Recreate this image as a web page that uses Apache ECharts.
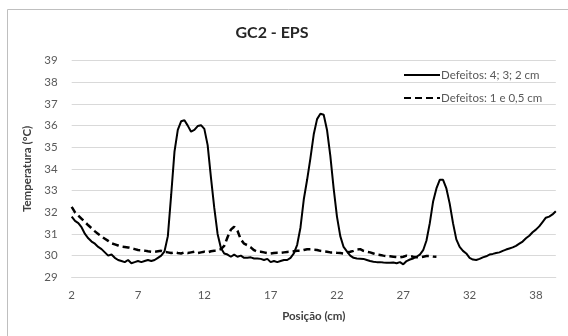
<!DOCTYPE html>
<html>
<head>
<meta charset="utf-8">
<script src="https://cdn.jsdelivr.net/npm/echarts@6/dist/echarts.min.js"></script>
<style>
html,body{margin:0;padding:0;background:#fff;}
#chart{width:568px;height:336px;}
</style>
</head>
<body>
<div id="chart"></div>
<script>
// Position start (cm) and sampling step along the category axis
const startCm = 2;
const stepCm = 0.25;

// Tick labels shown on the x axis (as printed in the original)
const xTickLabels = ['2', '7', '12', '17', '22', '27', '32', '38'];

const seriesNames = ['Defeitos: 4; 3; 2 cm', 'Defeitos: 1 e 0,5 cm'];

// Solid series: Defeitos 4; 3; 2 cm
const solidValues = [
  31.8, 31.6, 31.5, 31.3, 31.0, 30.8, 30.65, 30.55, 30.4, 30.3,
  30.15, 30.0, 30.05, 29.9, 29.8, 29.75, 29.7, 29.8, 29.65, 29.7,
  29.75, 29.7, 29.75, 29.8, 29.75, 29.8, 29.9, 30.0, 30.2, 30.9,
  32.8, 34.8, 35.8, 36.2, 36.25, 36.0, 35.72, 35.8, 35.98, 36.02,
  35.85, 35.1, 33.6, 32.2, 31.0, 30.35, 30.1, 30.05, 29.95, 30.05,
  29.95, 30.0, 29.9, 29.9, 29.92, 29.87, 29.87, 29.85, 29.8, 29.85,
  29.7, 29.75, 29.7, 29.75, 29.8, 29.8, 29.9, 30.1, 30.5, 31.3,
  32.6, 33.5, 34.5, 35.6, 36.3, 36.55, 36.5, 35.8, 34.6, 33.1,
  31.8, 30.9, 30.4, 30.2, 30.0, 29.9, 29.87, 29.86, 29.85, 29.8,
  29.75, 29.72, 29.7, 29.7, 29.68, 29.67, 29.67, 29.68, 29.65, 29.7,
  29.6, 29.75, 29.82, 29.87, 29.95, 30.05, 30.25, 30.7, 31.5, 32.5,
  33.1, 33.5, 33.5, 33.1, 32.4, 31.5, 30.75, 30.4, 30.22, 30.1,
  29.9, 29.82, 29.8, 29.85, 29.92, 29.97, 30.05, 30.08, 30.12, 30.15,
  30.22, 30.28, 30.33, 30.38, 30.45, 30.55, 30.65, 30.8, 30.92, 31.08,
  31.2, 31.35, 31.55, 31.75, 31.8, 31.9, 32.05
];

// Dashed series: Defeitos 1 e 0,5 cm
const dashedValues = [
  32.25, 32.0, 31.85, 31.7, 31.55, 31.4, 31.26, 31.12, 31.0, 30.88,
  30.78, 30.68, 30.57, 30.52, 30.47, 30.42, 30.4, 30.38, 30.34, 30.3,
  30.26, 30.25, 30.23, 30.2, 30.18, 30.18, 30.2, 30.22, 30.18, 30.15,
  30.12, 30.15, 30.12, 30.1, 30.15, 30.12, 30.15, 30.18, 30.12, 30.15,
  30.18, 30.15, 30.2, 30.22, 30.25, 30.3, 30.45, 30.85, 31.2, 31.33,
  31.15, 30.75, 30.55, 30.48, 30.38, 30.25, 30.18, 30.18, 30.15, 30.12,
  30.1, 30.12, 30.13, 30.13, 30.15, 30.17, 30.18, 30.2, 30.22, 30.22,
  30.26, 30.29, 30.29, 30.27, 30.26, 30.22, 30.2, 30.18, 30.15, 30.15,
  30.13, 30.12, 30.1, 30.15, 30.18, 30.22, 30.28, 30.3, 30.22, 30.18,
  30.15, 30.1, 30.05, 30.03, 30.0, 29.98, 29.97, 29.95, 29.93, 29.92,
  29.95, 30.0, 29.98, 29.95, 29.93, 29.92, 29.95, 29.98, 29.98, 29.96,
  29.95
];

const categories = solidValues.map((_, i) => String(startCm + i * stepCm));

const FONT = 'Lato, "Open Sans", sans-serif';
const chart = echarts.init(document.getElementById('chart'), null, {renderer: 'canvas'});
chart.setOption({
  animation: false,
  backgroundColor: '#fff',
  graphic: [{
    type: 'rect',
    shape: {x: 7.5, y: 9.5, width: 600, height: 400},
    style: {fill: 'none', stroke: '#bfbfbf', lineWidth: 1},
    silent: true,
    z: -10
  }],
  title: {
    text: 'GC2 - EPS',
    left: 267,
    textAlign: 'center',
    top: 20,
    textStyle: {fontFamily: FONT, fontSize: 16, fontWeight: 'bold', color: '#262626'}
  },
  legend: {
    orient: 'vertical',
    left: 398,
    top: 64,
    itemWidth: 36,
    itemHeight: 14,
    itemGap: 11,
    data: seriesNames,
    itemStyle: {opacity: 0},
    textStyle: {fontFamily: FONT, fontSize: 11.5, color: '#595959', padding: [0, 0, 0, -4]}
  },
  grid: {left: 71.7, right: 12.2, top: 60.6, bottom: 58.7, containLabel: false},
  xAxis: {
    type: 'category',
    data: categories,
    boundaryGap: false,
    name: 'Posição (cm)',
    nameLocation: 'middle',
    nameGap: 33,
    nameTextStyle: {fontFamily: FONT, fontSize: 11.5, fontWeight: 'bold', color: '#404040'},
    axisLine: {show: true, lineStyle: {color: '#d9d9d9'}},
    axisTick: {show: false},
    axisLabel: {
      interval: 19,
      margin: 12,
      fontFamily: FONT, fontSize: 11.5, color: '#595959',
      formatter: function (v) {
        const k = Math.round((parseFloat(v) - startCm) / 5);
        return xTickLabels[k] !== undefined ? xTickLabels[k] : '';
      }
    },
    splitLine: {show: false}
  },
  yAxis: {
    type: 'value',
    min: 29,
    max: 39,
    interval: 1,
    name: 'Temperatura (°C)',
    nameLocation: 'middle',
    nameGap: 31,
    nameTextStyle: {fontFamily: FONT, fontSize: 11.5, fontWeight: 'bold', color: '#404040'},
    axisLine: {show: false},
    axisTick: {show: false},
    axisLabel: {fontFamily: FONT, fontSize: 11.5, color: '#595959', margin: 14},
    splitLine: {lineStyle: {color: '#d9d9d9', width: 1}}
  },
  series: [
    {
      name: seriesNames[0],
      type: 'line',
      data: solidValues,
      symbol: 'none',
      lineStyle: {color: '#000', width: 2},
      itemStyle: {color: '#000'}
    },
    {
      name: seriesNames[1],
      type: 'line',
      data: dashedValues,
      symbol: 'none',
      lineStyle: {color: '#000', width: 2.5, type: [7, 4]},
      itemStyle: {color: '#000'}
    }
  ]
});
</script>
</body>
</html>
